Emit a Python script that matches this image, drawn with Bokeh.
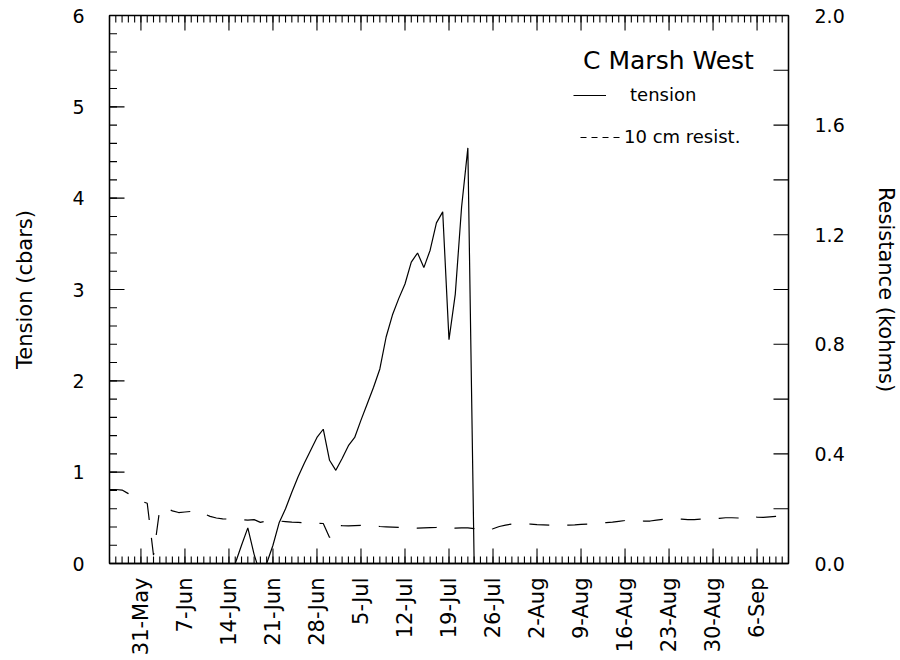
import math
import pandas as pd
from bokeh.plotting import figure
from bokeh.models import (LinearAxis, Range1d, FixedTicker, Legend, LegendItem,
                          Label, PrintfTickFormatter)
from bokeh.embed import file_html
from bokeh.resources import INLINE

YEAR = 2000
FONT = "DejaVu Sans"

# Tensiometer reading (cbars), daily
tension_dates = [
    "06-15", "06-16", "06-17", "06-18", "06-19", "06-20", "06-21", "06-22",
    "06-23", "06-24", "06-25", "06-26", "06-27", "06-28", "06-29", "06-30",
    "07-01", "07-02", "07-03", "07-04", "07-05", "07-06", "07-07", "07-08",
    "07-09", "07-10", "07-11", "07-12", "07-13", "07-14", "07-15", "07-16",
    "07-17", "07-18", "07-19", "07-20", "07-21", "07-22", "07-23",
]
tension_values = [
    0.00, 0.20, 0.39, 0.10, -0.12, 0.00, 0.20, 0.45,
    0.60, 0.78, 0.95, 1.10, 1.24, 1.38, 1.47, 1.13,
    1.02, 1.15, 1.29, 1.38, 1.57, 1.75, 1.93, 2.13,
    2.48, 2.72, 2.90, 3.06, 3.30, 3.40, 3.24, 3.43,
    3.73, 3.85, 2.45, 2.95, 3.90, 4.55, 0.00,
]

# 10 cm resistance block (kohms), daily from 26 May
resist_start = "05-26"
resist_values = [
    # May 26-31
    0.270, 0.270, 0.268, 0.255, 0.240, 0.228,
    # June
    0.220, 0.030, 0.200, 0.203, 0.192, 0.186, 0.188, 0.190, 0.195, 0.182,
    0.172, 0.166, 0.163, 0.162, 0.160, 0.160, 0.158, 0.160, 0.150, 0.155,
    0.156, 0.155, 0.153, 0.151, 0.150, 0.149, 0.148, 0.147, 0.146, 0.095,
    # July
    0.140, 0.138, 0.137, 0.138, 0.139, 0.139, 0.137, 0.135, 0.134, 0.133,
    0.132, 0.132, 0.131, 0.129, 0.130, 0.131, 0.132, 0.136, 0.131, 0.129,
    0.130, 0.130, 0.127, 0.122, 0.120, 0.127, 0.135, 0.140, 0.144, 0.145,
    0.145,
    # August
    0.144, 0.142, 0.141, 0.140, 0.139, 0.140, 0.140, 0.141, 0.143, 0.144,
    0.145, 0.147, 0.149, 0.151, 0.154, 0.157, 0.160, 0.156, 0.155, 0.155,
    0.158, 0.161, 0.163, 0.163, 0.162, 0.160, 0.160, 0.162, 0.163, 0.164,
    0.165,
    # September 1-11
    0.167, 0.167, 0.166, 0.166, 0.174, 0.169, 0.168, 0.170, 0.172, 0.173,
    0.174,
]

tick_dates = ["05-31", "06-07", "06-14", "06-21", "06-28", "07-05", "07-12",
              "07-19", "07-26", "08-02", "08-09", "08-16", "08-23", "08-30",
              "09-06"]
tick_labels = ["31-May", "7-Jun", "14-Jun", "21-Jun", "28-Jun", "5-Jul",
               "12-Jul", "19-Jul", "26-Jul", "2-Aug", "9-Aug", "16-Aug",
               "23-Aug", "30-Aug", "6-Sep"]

tension_ticks = [0, 1, 2, 3, 4, 5, 6]
tension_minor = [i / 5 for i in range(31)]
resist_ticks = [0.0, 0.4, 0.8, 1.2, 1.6, 2.0]
resist_minor = [0.2, 0.6, 1.0, 1.4, 1.8]


def ms(md):
    return int(pd.Timestamp(f"{YEAR}-{md}").value // 10**6)


x_start, x_end = ms("05-26"), ms("09-11")
day_ms = 86400000
daily = list(range(x_start, x_end + day_ms, day_ms))
tick_ms = [ms(d) for d in tick_dates]

t_x = [ms(d) for d in tension_dates]
r_x = [int(t.value // 10**6) for t in
       pd.date_range(f"{YEAR}-{resist_start}", periods=len(resist_values), freq="D")]

p = figure(width=900, height=660, output_backend="svg", toolbar_location=None,
           x_range=Range1d(x_start, x_end), y_range=Range1d(0, 6),
           x_axis_type=None, y_axis_type=None,
           min_border_left=109, min_border_right=109,
           min_border_top=15, min_border_bottom=97)
p.extra_y_ranges = {"res": Range1d(0, 2)}
p.outline_line_color = "black"
p.outline_line_width = 1.3
p.background_fill_color = "white"
p.border_fill_color = "white"


def style(ax):
    # tick marks are drawn as glyphs below, so the axes carry rule and labels
    ax.major_tick_in = 0
    ax.major_tick_out = 0
    ax.minor_tick_in = 0
    ax.minor_tick_out = 0
    ax.axis_line_color = "black"
    ax.axis_line_width = 1.3
    ax.major_label_text_font = FONT
    ax.major_label_text_color = "black"
    ax.axis_label_text_font = FONT
    ax.axis_label_text_font_style = "normal"
    ax.axis_label_text_color = "black"


bottom = LinearAxis(ticker=FixedTicker(ticks=tick_ms),
                    major_label_overrides=dict(zip(tick_ms, tick_labels)))
style(bottom)
bottom.major_label_orientation = math.pi / 2
bottom.major_label_standoff = 14
bottom.major_label_text_font_size = "21px"
p.add_layout(bottom, "below")

left = LinearAxis(ticker=FixedTicker(ticks=tension_ticks),
                  axis_label="Tension (cbars)")
style(left)
left.major_label_standoff = 25
left.major_label_text_font_size = "19px"
left.axis_label_text_font_size = "21px"
left.axis_label_standoff = 32
p.add_layout(left, "left")

right = LinearAxis(y_range_name="res", ticker=FixedTicker(ticks=resist_ticks),
                   formatter=PrintfTickFormatter(format="%.1f"),
                   axis_label="Resistance (kohms)")
style(right)
right.major_label_standoff = 26
right.major_label_text_font_size = "19px"
right.axis_label_text_font_size = "21px"
right.axis_label_standoff = 26
p.add_layout(right, "right")


# inward tick marks: dashes centred on the frame edge, the frame clips the
# outer half away
def edge_ticks(xs, ys, length, angle, **kw):
    p.scatter(xs, ys, marker="dash", size=2 * length, angle=angle,
              line_color="black", line_width=1.1, **kw)


edge_ticks(tick_ms, [0] * len(tick_ms), 15, math.pi / 2)
edge_ticks(daily, [0] * len(daily), 7, math.pi / 2)
edge_ticks(tick_ms, [6] * len(tick_ms), 15, math.pi / 2)
edge_ticks(daily, [6] * len(daily), 7, math.pi / 2)
edge_ticks([x_start] * len(tension_ticks), tension_ticks, 15, 0)
edge_ticks([x_start] * len(tension_minor), tension_minor, 7.5, 0)
edge_ticks([x_end] * len(resist_ticks), resist_ticks, 15, 0, y_range_name="res")
edge_ticks([x_end] * len(resist_minor), resist_minor, 15, 0, y_range_name="res")

t_line = p.line(t_x, tension_values, line_color="black", line_width=1.2)
p.line(r_x, resist_values, y_range_name="res", line_color="black",
       line_width=1.2, line_dash="20 18")
# key-only renderer for the short-dash legend sample
r_key = p.line(x=[x_start], y=[float("nan")], y_range_name="res",
               line_color="black", line_width=1.2, line_dash="6 5")


def key(item, loc, gw, standoff):
    leg = Legend(items=[item], location=loc, orientation="vertical",
                 glyph_width=gw, glyph_height=20, label_height=20,
                 label_standoff=standoff, padding=0, margin=0, spacing=0,
                 border_line_color=None, background_fill_alpha=0,
                 label_text_font=FONT, label_text_font_size="18px",
                 label_text_color="black")
    p.add_layout(leg)


key(LegendItem(label="tension", renderers=[t_line]), (464, 458), 33, 24)
key(LegendItem(label="10 cm resist.", renderers=[r_key]), (471, 416), 41, 3)

p.add_layout(Label(x=559, y=503, x_units="screen", y_units="screen",
                   text="C Marsh West", text_align="center",
                   text_baseline="middle", text_font=FONT,
                   text_font_size="25px", text_color="black"))

open("out.html", "w").write(file_html(p, INLINE))
